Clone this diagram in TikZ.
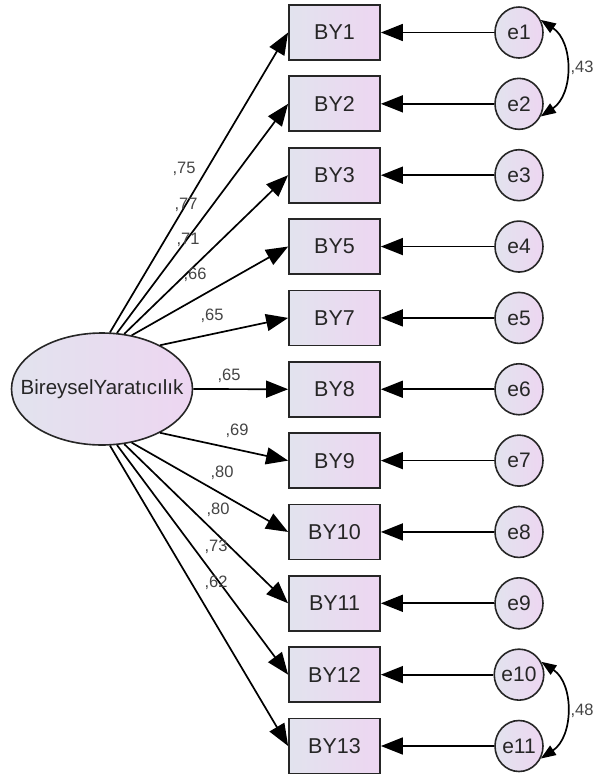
\documentclass[tikz,border=0pt]{standalone}
\usepackage{fontspec}
\setmainfont{Liberation Sans}
\usetikzlibrary{arrows.meta,shapes.geometric}
\definecolor{fillL}{HTML}{E2E3EE}
\definecolor{fillR}{HTML}{EDD6F1}
\definecolor{lblc}{HTML}{444444}
\tikzset{
  obs/.style={draw=black!85, line width=1.8pt, rectangle, minimum width=91pt, minimum height=55pt,
     left color=fillL, right color=fillR, font=\fontsize{21.5}{23}\selectfont, text=black!85, inner sep=0pt},
  err/.style={draw=black!85, line width=1.6pt, ellipse, minimum width=48pt, minimum height=51pt,
     left color=fillL, right color=fillR, font=\fontsize{21}{23}\selectfont, text=black!85, inner sep=0pt},
  lat/.style={draw=black!85, line width=1.6pt, ellipse, minimum width=181pt, minimum height=112pt,
     left color=fillL, right color=fillR, font=\fontsize{20.5}{22}\selectfont, text=black!85,
     inner xsep=-25pt, inner ysep=0pt},
  load/.style={line width=1.7pt, -{Triangle[length=22pt,width=17pt]}},
  cov/.style={line width=1.7pt, {Triangle[length=15pt,width=11pt]}-{Triangle[length=15pt,width=11pt]}},
  lbl/.style={font=\fontsize{16.5}{18}\selectfont, text=lblc, inner sep=0pt}
}
\begin{document}
\begin{tikzpicture}[x=1pt,y=-1pt]
\useasboundingbox (0,0) rectangle (594,777);
\node[lat] (F) at (102,389) {BireyselYaratıcılık};
\foreach \n/\i/\e/\a in {BY1/0/e1/82,BY2/1/e2/75,BY3/2/e3/68,BY5/3/e4/61,BY7/4/e5/37,BY8/5/e6/0,BY9/6/e7/-37,BY10/7/e8/-61,BY11/8/e9/-68,BY12/9/e10/-75,BY13/10/e11/-82}{
  \node[obs] (\n) at (334.5,{32.5+71.35*\i}) {\n};
  \node[err] (\e) at (519,{32.5+71.35*\i}) {\e};
  \draw[load] (F.\a) -- (\n.west);
  \draw[load] (\e.west) -- (\n.east);
}
\draw[cov] (e1.30) .. controls +(33,22) and +(33,-22) .. (e2.-30);
\draw[cov] (e10.30) .. controls +(33,22) and +(33,-22) .. (e11.-30);
\node[lbl] (c1) at (582,68) {,43};
\node[lbl] (c2) at (582,711) {,48};
\node[lbl] (l1) at (184,169) {,75};
\node[lbl] (l2) at (186,205) {,77};
\node[lbl] (l3) at (188,240) {,71};
\node[lbl] (l4) at (195,275) {,66};
\node[lbl] (l5) at (212,316) {,65};
\node[lbl] (l6) at (229,376) {,65};
\node[lbl] (l7) at (237,431) {,69};
\node[lbl] (l8) at (222,473) {,80};
\node[lbl] (l9) at (218,510) {,80};
\node[lbl] (l10) at (216,547) {,73};
\node[lbl] (l11) at (216,583) {,62};
\end{tikzpicture}
\end{document}
